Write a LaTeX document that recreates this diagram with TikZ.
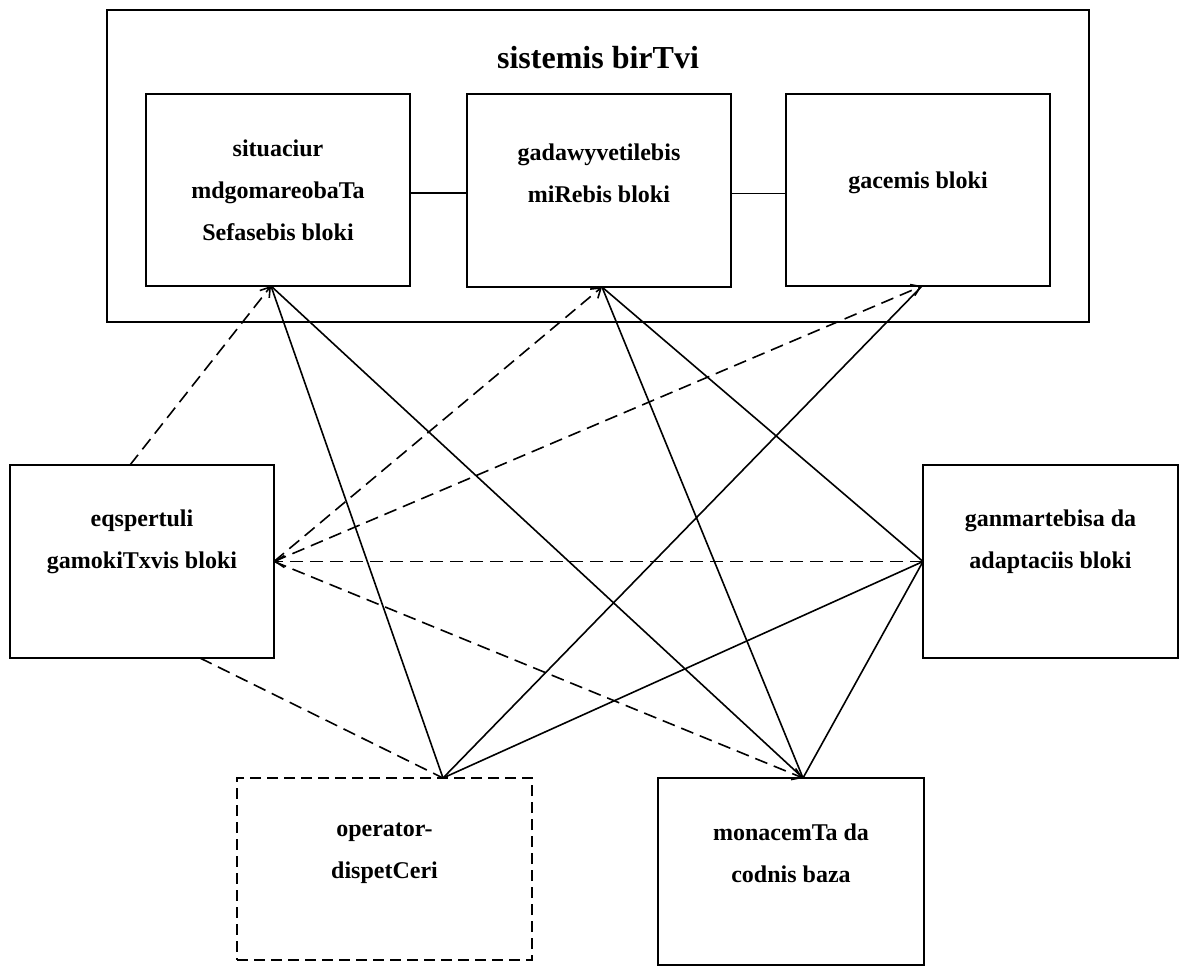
\documentclass[tikz,border=0pt]{standalone}
\usepackage{fontspec}
\setmainfont{Liberation Serif}
\usetikzlibrary{arrows.meta}
\begin{document}
\begin{tikzpicture}[x=1pt,y=-1pt,
  box/.style={draw, line width=1.6pt, rectangle, inner sep=0pt, outer sep=0pt, anchor=north west},
  dbox/.style={box, dash pattern=on 11pt off 6pt},
  lbl/.style={font=\fontsize{24}{42}\selectfont\bfseries, align=center, inner sep=0pt},
  link/.style={line width=1.6pt},
  dlink/.style={line width=1.6pt, dash pattern=on 13pt off 7pt},
  tip/.style={-{Straight Barb[length=9pt,width=12pt]}}
]
\useasboundingbox (0,0) rectangle (1189,970);

% system block with its three sub-blocks
\node[box, minimum width=982pt, minimum height=312pt] (sys) at (107,10) {};
\node[lbl, font=\fontsize{32}{38}\selectfont\bfseries] (syst) at (598,58) {sistemis birTvi};

\node[box, minimum width=264pt, minimum height=192pt] (b1) at (146,94) {};
\node[lbl] (b1t) at (278,190) {situaciur\\mdgomareobaTa\\Sefasebis bloki};

\node[box, minimum width=264pt, minimum height=193pt] (b2) at (467,94) {};
\node[lbl] (b2t) at (599,173) {gadawyvetilebis\\miRebis bloki};

\node[box, minimum width=264pt, minimum height=192pt] (b3) at (786,94) {};
\node[lbl] (b3t) at (918,183) {gacemis bloki};

% side blocks
\node[box, minimum width=264pt, minimum height=193pt] (lb) at (10,465) {};
\node[lbl] (lbt) at (142,542) {eqspertuli\\gamokiTxvis bloki};

\node[box, minimum width=255pt, minimum height=193pt] (rb) at (923,465) {};
\node[lbl] (rbt) at (1050.5,542) {ganmartebisa da\\adaptaciis bloki};

% bottom blocks
\node[dbox, minimum width=295pt, minimum height=182pt] (op) at (237,778) {};
\node[lbl] (opt) at (384.5,853) {operator-\\dispetCeri};

\node[box, minimum width=266pt, minimum height=187pt] (mb) at (658,778) {};
\node[lbl] (mbt) at (791,853) {monacemTa da\\codnis baza};

% connection points on the block borders
\coordinate (b1s) at ([xshift=-7pt]b1.south);
\coordinate (b2s) at ([xshift=3pt]b2.south);
\coordinate (b3s) at ([xshift=4pt]b3.south);
\coordinate (ltop) at ([xshift=-12pt]lb.north);
\coordinate (lbot) at ([xshift=58pt]lb.south);
\coordinate (opT) at ([xshift=58.5pt]op.north);
\coordinate (mbT) at ([xshift=12pt]mb.north);

% links inside the system block
\draw[link] ([yshift=-3pt]b1.east) -- ([yshift=-3pt]b1.east -| b2.west);
\draw[link] ([yshift=-3pt]b2.east) -- ([yshift=-3pt]b2.east -| b3.west);

% solid links
\draw[link] (b1s) -- (opT);
\draw[link] (b1s) -- (mbT);
\draw[link] (b2s) -- (mbT);
\draw[link] (b2s) -- (rb.west);
\draw[link] (b3s) -- (opT);
\draw[link] (rb.west) -- (opT);
\draw[link] (rb.west) -- (mbT);

% dashed links
\draw[dlink, tip] (ltop) -- (b1s);
\draw[dlink, tip] (lb.east) -- (b2s);
\draw[dlink, tip] (lb.east) -- (b3s);
\draw[dlink, tip] (rb.west) -- (lb.east);
\draw[dlink, tip] (lb.east) -- (mbT);
\draw[dlink] (lbot) -- (opT);
\end{tikzpicture}
\end{document}
